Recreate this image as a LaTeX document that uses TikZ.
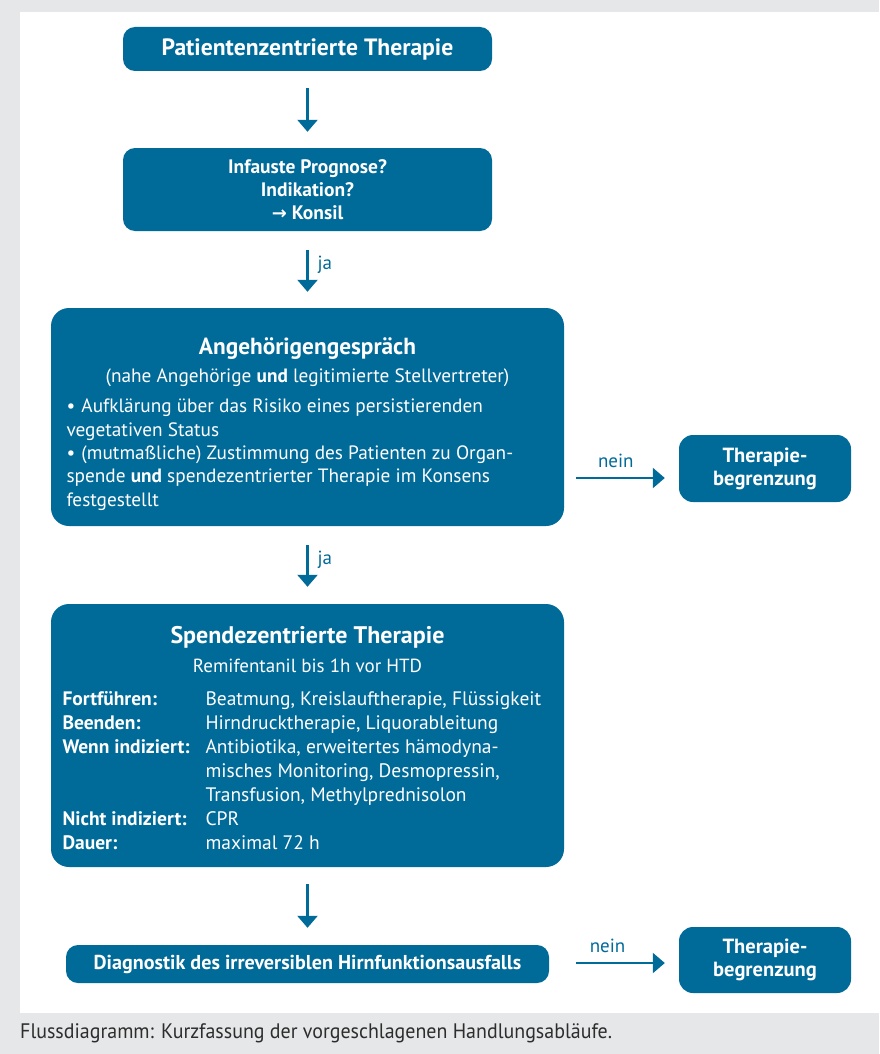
\documentclass[tikz,border=0pt]{standalone}
\usepackage{fontspec}
\setmainfont{PT Sans}
\newfontfamily\condfont{PT Sans}[FakeStretch=0.95]
\newfontfamily\symfont{DejaVu Sans}
\usetikzlibrary{arrows.meta}
\definecolor{boxblue}{RGB}{0,106,153}
\definecolor{bggray}{RGB}{230,231,232}
\definecolor{captext}{RGB}{45,45,45}
\newcommand\bitem[1]{\par\noindent\hangindent=15pt\hangafter=1\makebox[15pt][l]{\textbullet}#1\par}
\begin{document}
\begin{tikzpicture}[x=1pt,y=-1pt,
  box/.style={fill=boxblue, text=white, rounded corners=12pt, inner sep=0pt, align=center},
  bigbox/.style={fill=boxblue, text=white, rounded corners=18pt, inner sep=0pt},
  flow/.style={draw=boxblue, line width=2.3pt, -{Triangle[width=20pt,length=12pt]}},
  lab/.style={text=boxblue, font=\fontsize{19}{21}\selectfont, inner sep=0pt},
  titlefont/.style={font=\bfseries\fontsize{19.5}{23}\selectfont},
  tbfont/.style={font=\bfseries\fontsize{20.5}{23}\selectfont}]

\fill[bggray] (0,0) rectangle (879,1054);
\fill[white] (20,12) rectangle (879,1013);
\useasboundingbox (0,0) rectangle (879,1054);

% boxes
\node[box, minimum width=369pt, minimum height=44pt, font=\bfseries\fontsize{23.6}{26}\selectfont]
  (b1) at (307.5,49) {Patientenzentrierte Therapie};

\node[box, minimum width=369pt, minimum height=83pt, titlefont]
  (b2) at (307.5,189.5) {Infauste Prognose?\\Indikation?\\{\symfont\bfseries\fontsize{18}{23}\selectfont →} Konsil};

\node[bigbox, minimum width=513pt, minimum height=218pt]
  (b3) at (307.5,417) {\begin{minipage}[c][218pt][t]{482pt}
  \vspace*{30pt}
  {\centering\bfseries\fontsize{23.3}{28}\selectfont Angehörigengespräch\par}
  \vspace{4.7pt}
  {\centering\fontsize{19.3}{23.3}\selectfont (nahe Angehörige \textbf{und} legitimierte Stellvertreter)\par}
  \vspace{6.7pt}
  {\raggedright\fontsize{19.3}{23.3}\selectfont
  \bitem{Aufklärung über das Risiko eines persistierenden\\vegetativen Status}
  \bitem{(mutmaßliche) Zustimmung des Patienten zu Organ-\\spende \textbf{und} spendezentrierter Therapie im Konsens\\festgestellt}}
  \end{minipage}};

\node[box, rounded corners=14pt, minimum width=172pt, minimum height=67pt, tbfont]
  (tb1) at (765,468.5) {Therapie-\\begrenzung};

\node[bigbox, minimum width=513pt, minimum height=263pt]
  (b4) at (307.5,735.5) {\begin{minipage}[c][263pt][t]{490pt}
  \vspace*{22pt}
  {\centering\bfseries\fontsize{24}{28}\selectfont Spendezentrierte Therapie\par}
  \vspace{5pt}
  {\centering\fontsize{19}{24}\selectfont Remifentanil bis 1h vor HTD\par}
  \vspace{9pt}
  {\fontsize{19.5}{24}\selectfont\noindent
  \begin{tabular}[t]{@{}p{143pt}@{}l@{}}
  \textbf{Fortführen:} & Beatmung, Kreislauftherapie, Flüssigkeit\\
  \textbf{Beenden:} & Hirndrucktherapie, Liquorableitung\\
  \textbf{Wenn indiziert:} & Antibiotika, erweitertes hämodyna-\\
   & misches Monitoring, Desmopressin,\\
   & Transfusion, Methylprednisolon\\
  \textbf{Nicht indiziert:} & CPR\\
  \textbf{Dauer:} & maximal 72 h
  \end{tabular}\par}
  \end{minipage}};

\node[box, minimum width=483pt, minimum height=38pt, font=\bfseries\fontsize{20.1}{24}\selectfont]
  (b5) at (307.5,964) {Diagnostik des irreversiblen Hirnfunktionsausfalls};

\node[box, rounded corners=14pt, minimum width=172pt, minimum height=66pt, tbfont]
  (tb2) at (765,960) {Therapie-\\begrenzung};

% connectors
\draw[flow, shorten <=17pt, shorten >=16pt] (b1) -- (b2);
\draw[flow, shorten <=19pt, shorten >=16pt] (b2) -- (b3) node[pos=0.5, anchor=west, lab, xshift=9pt, yshift=5pt] (ja1) {ja};
\draw[flow, shorten <=19pt, shorten >=17pt] (b3) -- (b4) node[pos=0.5, anchor=west, lab, xshift=9pt, yshift=5pt] (ja2) {ja};
\draw[flow, shorten <=17pt, shorten >=17pt] (b4) -- (b5);

\path (0,478) coordinate (r1) (0,963) coordinate (r2);
\draw[flow, shorten <=12pt, shorten >=14pt] (b3.east |- r1) -- (tb1.west |- r1)
  node[pos=0.45, above=9pt, lab] (nein1) {nein};
\draw[flow, shorten <=27pt, shorten >=14pt] (b5.east |- r2) -- (tb2.west |- r2)
  node[pos=0.45, above=9pt, lab] (nein2) {nein};

% caption
\node[anchor=west, inner sep=0pt, text=captext, font=\condfont\fontsize{21}{24}\selectfont]
  (cap) at (20,1033) {Flussdiagramm: Kurzfassung der vorgeschlagenen Handlungsabläufe.};
\end{tikzpicture}
\end{document}
